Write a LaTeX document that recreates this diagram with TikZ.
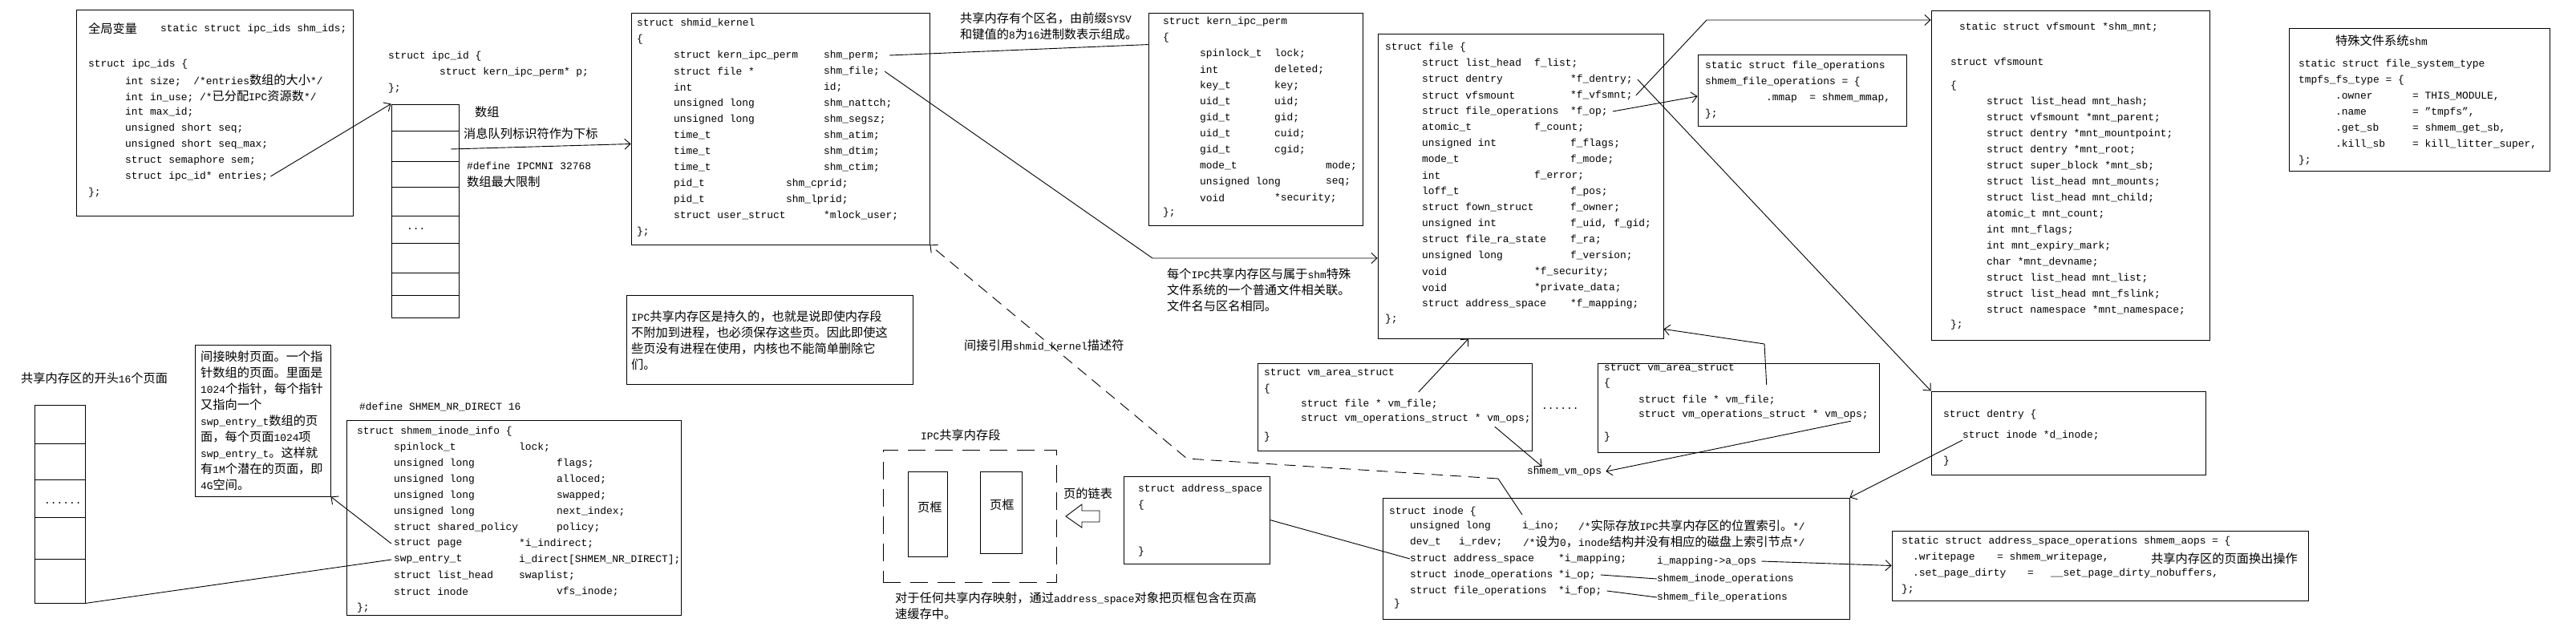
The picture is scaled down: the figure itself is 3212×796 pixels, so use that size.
\documentclass[tikz,border=0pt]{standalone}
\usepackage{fontspec}
\setmainfont{Liberation Mono}
\newfontfamily\zhfont{Noto Sans CJK SC}[Scale=1.18]
\newcommand{\zh}[1]{{\zhfont #1}}
\usetikzlibrary{arrows.meta,fit}

\tikzset{
  box/.style={draw, line width=.9pt, inner sep=0pt},
  code/.style={anchor=west, inner sep=0pt, font=\fontsize{12.9}{20}\selectfont},
  link/.style={line width=.9pt},
  ptr/.style={link, -{Straight Barb[length=7pt,width=13pt]}},
  dashlink/.style={link, dash pattern=on 14pt off 9pt},
}

\begin{document}
\begin{tikzpicture}[x=1pt,y=-1pt]
\path[fill=white] (0,0) rectangle (3212,796);

\node[box, fit={(95,12) (440,269)}] (ids) {};
\node[code] (gvar) at (110,36) {\zh{全局变量}};
\node[code] (shmids) at (200,36) {static struct ipc\_ids shm\_ids;};
\node[code] (idshead) at (110,80) {struct ipc\_ids \{};
\foreach \t [count=\i] in {int size;~~/*entries\zh{数组的大小}*/, int in\_use; /*\zh{已分配}IPC\zh{资源数}*/, int max\_id;, unsigned short seq;, unsigned short seq\_max;, struct semaphore sem;, struct ipc\_id* entries;}
  \node[code] (ids\i) at (156,80+20*\i) {\t};
\node[code] (idsend) at (110,240) {\};};

\node[code] (idhead) at (484,70) {struct ipc\_id \{};
\node[code] (idp) at (548,90) {struct kern\_ipc\_perm* p;};
\node[code] (idend) at (484,110) {\};};
\node[box, fit={(488,130) (572,396)}] (idarr) {};
\foreach \y in {163,201,233,269,303,340,368} \draw[link] (488,\y) -- (572,\y);
\node[code] (iddots) at (507,286) {...};
\draw[ptr] ([xshift=3pt]ids7.east) -- (idarr.north west);

\node[code] (arrlbl) at (592,140) {\zh{数组}};
\node[code] (sublbl) at (578,167) {\zh{消息队列标识符作为下标}};
\node[code] (ipcmni) at (582,207) {\#define IPCMNI 32768};
\node[code] (maxlbl) at (582,227) {\zh{数组最大限制}};
\coordinate (sub) at (562,186);

\node[box, fit={(787,16) (1159,305)}] (shmk) {};
\node[code] (skhead) at (794,29) {struct shmid\_kernel};
\node[code] (skopen) at (794,49) {\{};
\foreach \ty/\nm/\nx [count=\i] in {struct kern\_ipc\_perm/shm\_perm;/1027, struct file */shm\_file;/1027, int/id;/1027, unsigned long/shm\_nattch;/1027, unsigned long/shm\_segsz;/1027, time\_t/shm\_atim;/1027, time\_t/shm\_dtim;/1027, time\_t/shm\_ctim;/1027, pid\_t/shm\_cprid;/980, pid\_t/shm\_lprid;/980, struct user\_struct/*mlock\_user;/1027}
  {\node[code] (sk\i) at (840,49+20*\i) {\ty}; \node[code] (skn\i) at (\nx,49+20*\i) {\nm};}
\node[code] (skend) at (794,289) {\};};
\draw[ptr] (sub) -- ([yshift=-19pt]shmk.west);

\node[code] (namelbl1) at (1197,23) {\zh{共享内存有个区名，由前缀}SYSV};
\node[code] (namelbl2) at (1197,43) {\zh{和键值的}8\zh{为}16\zh{进制数表示组成。}};

\node[box, fit={(1432,16) (1699,281)}] (kern) {};
\node[code] (kphead) at (1450,27) {struct kern\_ipc\_perm};
\node[code] (kpopen) at (1450,47) {\{};
\foreach \ty/\nm/\nx [count=\i] in {spinlock\_t/lock;/1589, int/deleted;/1589, key\_t/key;/1589, uid\_t/uid;/1589, gid\_t/gid;/1589, uid\_t/cuid;/1589, gid\_t/cgid;/1589, mode\_t/mode;/1653, unsigned long/seq;/1653, void/*security;/1589}
  {\node[code] (kp\i) at (1496,47+20*\i) {\ty}; \node[code] (kpn\i) at (\nx,47+20*\i) {\nm};}
\node[code] (kpend) at (1450,265) {\};};
\draw[link] ([xshift=12pt]skn1.east) -- ([yshift=-40pt]kern.north west);

\node[code] (filelbl1) at (1455,342) {\zh{每个}IPC\zh{共享内存区与属于}shm\zh{特殊}};
\node[code] (filelbl2) at (1455,362) {\zh{文件系统的一个普通文件相关联。}};
\node[code] (filelbl3) at (1455,382) {\zh{文件名与区名相同。}};

\node[box, fit={(1718,42) (2074,422)}] (file) {};
\node[code] (flhead) at (1727,59) {struct file \{};
\foreach \ty/\nm/\nx [count=\i] in {struct list\_head/f\_list;/1913, struct dentry/*f\_dentry;/1958, struct vfsmount/*f\_vfsmnt;/1958, struct file\_operations/*f\_op;/1958, atomic\_t/f\_count;/1913, unsigned int/f\_flags;/1958, mode\_t/f\_mode;/1958, int/f\_error;/1913, loff\_t/f\_pos;/1958, struct fown\_struct/f\_owner;/1958, unsigned int/{f\_uid, f\_gid;}/1958, struct file\_ra\_state/f\_ra;/1958, unsigned long/f\_version;/1958, void/*f\_security;/1913, void/*private\_data;/1913, struct address\_space/*f\_mapping;/1958}
  {\node[code] (fl\i) at (1773,59+20*\i) {\ty}; \node[code] (fln\i) at (\nx,59+20*\i) {\nm};}
\node[code] (flend) at (1727,398) {\};};
\coordinate (b1) at (1437,322);
\draw[ptr] ([xshift=6pt]skn2.east) -- (b1) -- (b1 -| file.west);

\node[box, fit={(2117,68) (2377,157)}] (fops) {};
\node[code] (fophead1) at (2126,82) {static struct file\_operations};
\node[code] (fophead2) at (2126,102) {shmem\_file\_operations = \{};
\node[code] (fopmmap) at (2202,122) {.mmap~ = shmem\_mmap,};
\node[code] (fopend) at (2126,142) {\};};
\draw[ptr] ([xshift=6pt]fln4.east) -- ([yshift=-7.5pt]fops.west);

\node[box, fit={(2408,13) (2755,424)}] (vfs) {};
\node[code] (shmmnt) at (2443,34) {static struct vfsmount *shm\_mnt;};
\node[code] (vfshead) at (2432,77) {struct vfsmount};
\node[code] (vfsopen) at (2432,107) {\{};
\foreach \t [count=\i] in {struct list\_head mnt\_hash;, struct vfsmount *mnt\_parent;, struct dentry *mnt\_mountpoint;, struct dentry *mnt\_root;, struct super\_block *mnt\_sb;, struct list\_head mnt\_mounts;, struct list\_head mnt\_child;, atomic\_t mnt\_count;, int mnt\_flags;, int mnt\_expiry\_mark;, char *mnt\_devname;, struct list\_head mnt\_list;, struct list\_head mnt\_fslink;, struct namespace *mnt\_namespace;}
  \node[code] (vfs\i) at (2477,107+20*\i) {\t};
\node[code] (vfsend) at (2432,405) {\};};
\coordinate (b2) at (2128,25);
\draw[ptr] ([xshift=4pt]fln3.east) -- (b2) -- (b2 -| vfs.west);

\node[box, fit={(2854,35) (3179,213)}] (shmfs) {};
\node[code] (fslbl) at (2912,51) {\zh{特殊文件系统}shm};
\node[code] (fshead1) at (2866,80) {static struct file\_system\_type};
\node[code] (fshead2) at (2866,100) {tmpfs\_fs\_type = \{};
\foreach \ty/\nm [count=\i] in {.owner/{= THIS\_MODULE,}, .name/{= "tmpfs",}, .get\_sb/{= shmem\_get\_sb,}, .kill\_sb/{= kill\_litter\_super,}}
  {\node[code] (fs\i) at (2912,100+20*\i) {\ty}; \node[code] (fsn\i) at (3008,100+20*\i) {\nm};}
\node[code] (fsend) at (2866,200) {\};};

\node[code] (pglbl) at (26,472) {\zh{共享内存区的开头}16\zh{个页面}};
\node[box, fit={(43,505) (106,752)}] (pages) {};
\foreach \y in {553,598,645,697} \draw[link] (43,\y) -- (106,\y);
\node[code] (pgdots) at (55,628) {......};

\node[box, fit={(243,430) (412,619)}] (note) {};
\foreach \t [count=\i] in {\zh{间接映射页面。一个指}, \zh{针数组的页面。里面是}, 1024\zh{个指针，每个指针}, \zh{又指向一个}, swp\_entry\_t\zh{数组的页}, \zh{面，每个页面}1024\zh{项}, swp\_entry\_t\zh{。这样就}, \zh{有}1M\zh{个潜在的页面，即}, 4G\zh{空间。}}
  \node[code] (note\i) at (250,425+20*\i) {\t};

\node[code] (nrdirect) at (448,508) {\#define SHMEM\_NR\_DIRECT 16};
\node[box, fit={(432,524) (849,767)}] (sinfo) {};
\node[code] (sdhead) at (445,538) {struct shmem\_inode\_info \{};
\foreach \ty/\nm/\nx [count=\i] in {spinlock\_t/lock;/647, unsigned long/flags;/694, unsigned long/alloced;/694, unsigned long/swapped;/694, unsigned long/next\_index;/694, struct shared\_policy/policy;/694, struct page/*i\_indirect;/647, swp\_entry\_t/{i\_direct[SHMEM\_NR\_DIRECT];}/647, struct list\_head/swaplist;/647, struct inode/vfs\_inode;/694}
  {\node[code] (sd\i) at (491,538+20*\i) {\ty}; \node[code] (sdn\i) at (\nx,538+20*\i) {\nm};}
\node[code] (sdend) at (445,758) {\};};
\draw[ptr] ([xshift=-3pt]sd7.west) -- (note.south east);
\draw[link] ([xshift=-3pt]sd8.west) -- (pages.south east);

\node[box, fit={(781,368) (1138,479)}] (keep) {};
\node[code] (keep1) at (787,395) {IPC\zh{共享内存区是持久的，也就是说即使内存段}};
\node[code] (keep2) at (787,415) {\zh{不附加到进程，也必须保存这些页。因此即使这}};
\node[code] (keep3) at (787,435) {\zh{些页没有进程在使用，内核也不能简单删除它}};
\node[code] (keep4) at (787,455) {\zh{们。}};

\node[code] (reflbl) at (1202,431) {\zh{间接引用}shmid\_kernel\zh{描述符}};

\node[code] (seglbl) at (1148,543) {IPC\zh{共享内存段}};
\node[box, dash pattern=on 22pt off 12pt, fit={(1101,561) (1317,726)}] (seg) {};
\node[box, fit={(1132,588) (1181,694)}] (frame1) {};
\node[box, fit={(1222,588) (1274,690)}] (frame2) {};
\node[code] (frame1t) at (1144,633) {\zh{页框}};
\node[code] (frame2t) at (1234,630) {\zh{页框}};
\node[code] (listlbl) at (1326,616) {\zh{页的链表}};
\draw[link] (1329,644) -- (1349,629) -- (1349,637) -- (1371,637) -- (1371,651) -- (1349,651) -- (1349,658) -- cycle;
\node[code] (cap1) at (1116,746) {\zh{对于任何共享内存映射，通过}address\_space\zh{对象把页框包含在页高}};
\node[code] (cap2) at (1116,766) {\zh{速缓存中。}};

\node[box, fit={(1401,594) (1583,703)}] (as) {};
\node[code] (ashead) at (1419,610) {struct address\_space};
\node[code] (asopen) at (1419,630) {\{};
\node[code] (asend) at (1419,688) {\}};

\node[box, fit={(1568,453) (1910,562)}] (vma1) {};
\node[code] (vma1h) at (1576,465) {struct vm\_area\_struct};
\node[code] (vma1o) at (1576,485) {\{};
\node[code] (vf1) at (1622,504) {struct file * vm\_file;};
\node[code] (vo1) at (1622,522) {struct vm\_operations\_struct * vm\_ops;};
\node[code] (vma1c) at (1576,545) {\}};
\node[code] (vmdots) at (1922,510) {......};
\node[code] (svo) at (1904,588) {shmem\_vm\_ops};
\draw[ptr] ([xshift=-24pt,yshift=9pt]vf1.north east) -- ([xshift=-65pt]file.south);
\draw[ptr] ([xshift=-45pt,yshift=-4pt]vo1.south east) -- ([xshift=-28pt]svo.north);

\node[box, fit={(1992,453) (2343,564)}] (vma2) {};
\node[code] (vma2h) at (2000,459) {struct vm\_area\_struct};
\node[code] (vma2o) at (2000,478) {\{};
\node[code] (vf2) at (2043,499) {struct file * vm\_file;};
\node[code] (vo2) at (2043,517) {struct vm\_operations\_struct * vm\_ops;};
\node[code] (vma2c) at (2000,545) {\}};
\coordinate (b3) at (2200,429);
\draw[ptr] ([xshift=-11pt,yshift=13pt]vf2.north east) -- (b3) -- ([yshift=12pt]file.south east);
\draw[ptr] ([xshift=-22pt,yshift=-2pt]vo2.south east) -- ([xshift=5pt]svo.east);

\node[box, fit={(2408,488) (2750,592)}] (dentry) {};
\node[code] (dhead) at (2423,517) {struct dentry \{};
\node[code] (di) at (2447,543) {struct inode *d\_inode;};
\node[code] (dend) at (2423,575) {\}};
\draw[ptr] ([xshift=6pt]fln2.east) -- (dentry.north west);

\node[box, fit={(1724,621) (2306,772)}] (inode) {};
\node[code] (inohead) at (1732,638) {struct inode \{};
\node[code] (inot0) at (1758,656) {unsigned long};
\node[code] (ino) at (1898,656) {i\_ino;};
\node[code] (inocmt) at (1968,656) {/*\zh{实际存放}IPC\zh{共享内存区的位置索引。}*/};
\node[code] (rdevt) at (1758,676) {dev\_t};
\node[code] (rdev) at (1819,676) {i\_rdev;};
\node[code] (rdevcmt) at (1899,676) {/*\zh{设为}0\zh{，}inode\zh{结构并没有相应的磁盘上索引节点}*/};
\foreach \ty/\nm [count=\i] in {struct address\_space/*i\_mapping;, struct inode\_operations/*i\_op;, struct file\_operations/*i\_fop;}
  {\node[code] (inot\i) at (1758,677+20*\i) {\ty}; \node[code] (inon\i) at (1943,677+20*\i) {\nm};}
\node[code] (inoend) at (1738,753) {\}};
\node[code] (amap) at (2066,700) {i\_mapping->a\_ops};
\node[code] (sio) at (2066,722) {shmem\_inode\_operations};
\node[code] (sfo) at (2066,745) {shmem\_file\_operations};
\draw[link] ([xshift=6pt]inon2.east) -- (sio.west);
\draw[link] ([xshift=6pt]inon3.east) -- (sfo.west);
\draw[link] (as.east) -- (inot1.west);
\draw[ptr] (di.south west) -- (inode.north east);

\coordinate (d1) at (1868,597);
\coordinate (d2) at (1480,572);
\draw[link] ([yshift=8pt]ino.north west) -- (d1);
\draw[dashlink, ptr] (d1) -- (d2) -- (shmk.south east);

\node[box, fit={(2359,662) (2878,749)}] (aops) {};
\node[code] (aophead) at (2371,675) {static struct address\_space\_operations shmem\_aops = \{};
\node[code] (wp) at (2385,695) {.writepage};
\node[code] (wpv) at (2490,695) {= shmem\_writepage,};
\node[code] (wplbl) at (2682,697) {\zh{共享内存区的页面换出操作}};
\node[code] (spd) at (2385,715) {.set\_page\_dirty};
\node[code] (spdeq) at (2528,715) {=};
\node[code] (spdv) at (2557,715) {\_\_set\_page\_dirty\_nobuffers,};
\node[code] (aopend) at (2371,735) {\};};
\draw[ptr] ([xshift=6pt]amap.east) -- (aops.west);
\end{tikzpicture}
\end{document}
